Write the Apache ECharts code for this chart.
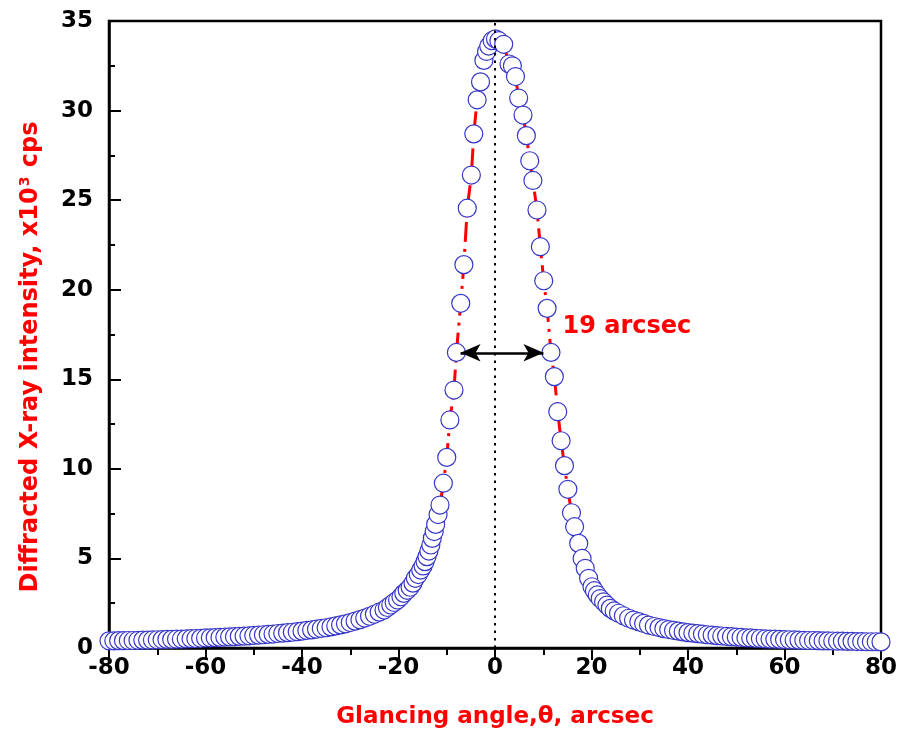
<!DOCTYPE html>
<html>
<head>
<meta charset="utf-8">
<script src="https://cdn.jsdelivr.net/npm/echarts@6/dist/echarts.min.js"></script>
<style>
html,body{margin:0;padding:0;background:#fff;}
#chart{width:903px;height:734px;}
</style>
</head>
<body>
<div id="chart"></div>
<script>
// Glancing angle (arcsec)
const angle = [
  -80,-79,-78,-77,-76,-75,-74,-73,-72,-71,-70,-69,-68,-67,-66,-65,-64,-63,-62,-61,
  -60,-59,-58,-57,-56,-55,-54,-53,-52,-51,-50,-49,-48,-47,-46,-45,-44,-43,-42,-41,
  -40,-39,-38,-37,-36,-35,-34,-33,-32,-31,-30,-29,-28,-27,-26,-25,
  -24,-23,-22.3,-21.6,-20.9,-20.2,-19.5,-18.9,-18.2,-17.6,-17.0,-16.5,-15.9,-15.4,
  -14.9,-14.5,-14.1,-13.7,-13.3,-13.0,-12.6,-12.3,-11.8,-11.4,-10.7,-10.0,-9.35,-8.5,
  -8.0,-7.1,-6.45,-5.75,-4.9,-4.4,-3.7,-3.0,-2.3,-1.75,-1.3,-0.6,0.1,
  0.8,1.8,2.9,3.6,4.25,4.9,5.8,6.5,7.2,7.85,8.7,9.4,10.1,10.8,11.6,12.3,13.0,13.7,
  14.4,15.1,15.85,16.5,17.35,18.05,18.7,19.4,20.1,20.6,21.2,21.8,22.5,23.2,23.9,24.7,
  25.6,26.6,27.7,28.7,29.8,30.8,31.8,
  33,34,35,36,37,38,39,40,41,42,43,44,45,46,47,48,49,50,51,52,53,54,55,56,57,58,59,
  60,61,62,63,64,65,66,67,68,69,70,71,72,73,74,75,76,77,78,79,80
];
// Diffracted X-ray intensity (x10^3 cps)
const intensity = [
  0.40,0.40,0.41,0.41,0.42,0.42,0.43,0.44,0.44,0.45,0.46,0.47,0.48,0.48,0.49,0.50,0.51,0.52,0.53,0.54,
  0.56,0.57,0.58,0.59,0.61,0.62,0.63,0.65,0.66,0.68,0.70,0.72,0.74,0.76,0.78,0.81,0.83,0.86,0.88,0.91,
  0.94,0.98,1.01,1.05,1.09,1.13,1.18,1.23,1.29,1.35,1.42,1.50,1.58,1.67,1.77,1.88,
  2.00,2.12,2.26,2.40,2.54,2.68,2.86,3.05,3.22,3.39,3.62,3.89,4.10,4.35,
  4.58,4.82,5.10,5.41,5.75,6.12,6.50,6.90,7.45,7.98,9.20,10.64,12.73,14.40,
  16.50,19.24,21.40,24.55,26.40,28.70,30.60,31.60,32.80,33.30,33.60,33.90,34.00,
  33.90,33.70,32.60,32.50,31.90,30.70,29.75,28.60,27.20,26.10,24.45,22.40,20.50,18.96,16.50,15.15,13.19,11.57,
  10.18,8.86,7.55,6.77,5.84,5.00,4.45,3.89,3.42,3.20,2.96,2.76,2.58,2.39,2.21,2.07,
  1.94,1.80,1.66,1.56,1.47,1.37,1.28,
  1.20,1.14,1.08,1.03,0.98,0.94,0.90,0.86,0.83,0.80,0.77,0.74,0.72,0.69,0.67,0.65,0.63,0.61,0.59,0.57,0.56,0.54,0.53,0.51,0.50,0.49,0.48,
  0.47,0.46,0.45,0.44,0.43,0.42,0.42,0.41,0.40,0.40,0.39,0.38,0.38,0.37,0.37,0.36,0.36,0.35,0.35,0.35,0.34
];
const xTicks = [-80,-60,-40,-20,0,20,40,60,80];
const yTicks = [0,5,10,15,20,25,30,35];
const fwhmLeft = [-7.14, 16.48];
const fwhmRight = [10.04, 16.48];
const fwhmLabelPos = [13.98, 17.92];
const fwhmText = '19 arcsec';

const FONT = 'DejaVu Sans';
const data = angle.map((a, i) => [a, intensity[i]]);

const chart = echarts.init(document.getElementById('chart'), null, {renderer: 'canvas'});
chart.setOption({
  animation: false,
  backgroundColor: '#fff',
  grid: {left: 109, right: 22, top: 21, bottom: 86, show: true, borderColor: '#000', borderWidth: 2.5, backgroundColor: 'transparent'},
  graphic: [{
    type: 'text', x: 31, y: 357, rotation: Math.PI / 2, silent: true,
    style: {
      text: '{a|Diffracted X-ray intensity, x10}{s|3}{a| cps}',
      align: 'center', verticalAlign: 'middle',
      rich: {
        a: {fill: '#ff0000', fontFamily: FONT, fontWeight: 'bold', fontSize: 24},
        s: {fill: '#ff0000', fontFamily: FONT, fontWeight: 'bold', fontSize: 14, verticalAlign: 'top', padding: [0, 1, 12, 1]}
      }
    }
  }],
  xAxis: {
    type: 'value', min: -80, max: 80, interval: 20,
    name: 'Glancing angle,θ, arcsec', nameLocation: 'middle', nameGap: 58,
    nameTextStyle: {color: '#ff0000', fontFamily: FONT, fontWeight: 'bold', fontSize: 23},
    axisLine: {show: true, onZero: false, lineStyle: {color: '#000', width: 2.5}},
    axisTick: {show: true, inside: false, length: 12, lineStyle: {color: '#000', width: 2}},
    minorTick: {show: true, splitNumber: 2, length: 7, lineStyle: {color: '#000', width: 2}},
    splitLine: {show: false},
    axisLabel: {color: '#000', fontFamily: FONT, fontWeight: 'bold', fontSize: 23, margin: 9,
      formatter: v => xTicks.includes(v) ? String(v) : ''}
  },
  yAxis: {
    type: 'value', min: 0, max: 35, interval: 5,
    axisLine: {show: true, onZero: false, lineStyle: {color: '#000', width: 2.5}},
    axisTick: {show: true, inside: true, length: 12, lineStyle: {color: '#000', width: 2}},
    minorTick: {show: true, splitNumber: 2, length: 6, lineStyle: {color: '#000', width: 2}},
    splitLine: {show: false},
    axisLabel: {color: '#000', fontFamily: FONT, fontWeight: 'bold', fontSize: 23, margin: 16,
      formatter: v => yTicks.includes(v) ? String(v) : ''}
  },
  series: [
    {
      type: 'line', data: data, z: 2,
      showSymbol: true, showAllSymbol: true, symbol: 'circle', symbolSize: 18,
      itemStyle: {color: '#ffffff', borderColor: '#3636c8', borderWidth: 1.2},
      lineStyle: {color: '#ff0000', width: 3, type: [20, 7, 3, 7]},
      emphasis: {disabled: true}
    },
    {
      type: 'scatter', data: [], z: 5, silent: true,
      markLine: {
        silent: true, animation: false,
        label: {show: false},
        emphasis: {disabled: true},
        data: [
          [{coord: [0, 0], symbol: 'none', lineStyle: {color: '#000', width: 2, type: [2.5, 5]}},
           {coord: [0, 35], symbol: 'none'}],
          [{coord: fwhmLeft, symbol: 'arrow', symbolSize: [13, 20], lineStyle: {color: '#000', width: 2.5, type: 'solid'}},
           {coord: fwhmRight, symbol: 'arrow', symbolSize: [13, 20]}]
        ],
        itemStyle: {color: '#000'}
      },
      markPoint: {
        silent: true,
        data: [{coord: fwhmLabelPos, symbol: 'circle', symbolSize: 0,
          label: {show: true, formatter: fwhmText, position: [0, 0], align: 'left', verticalAlign: 'middle',
            color: '#ff0000', fontFamily: FONT, fontWeight: 'bold', fontSize: 24}}]
      }
    }
  ]
});
</script>
</body>
</html>
